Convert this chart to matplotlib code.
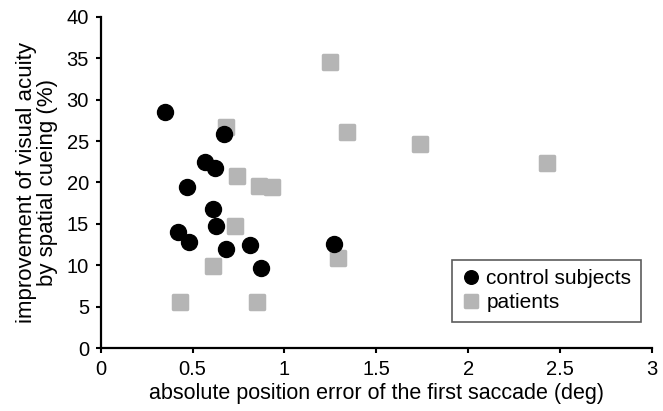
import matplotlib
matplotlib.use("Agg")
import matplotlib.pyplot as plt
from matplotlib.markers import MarkerStyle

plt.rcParams['font.family'] = ['Liberation Sans', 'DejaVu Sans']

# control subjects
ctrl_x = [0.35, 0.67, 0.57, 0.62, 0.47, 0.61, 0.63, 0.42, 0.48, 0.68, 0.81, 0.87, 1.27]
ctrl_y = [28.5, 25.8, 22.5, 21.8, 19.4, 16.8, 14.8, 14.0, 12.8, 12.0, 12.4, 9.7, 12.6]
# patients
pat_x = [1.25, 0.68, 1.34, 0.74, 0.86, 0.93, 0.73, 1.29, 0.61, 0.43, 0.85, 1.74, 2.43]
pat_y = [34.6, 26.7, 26.1, 20.8, 19.6, 19.4, 14.7, 10.9, 9.9, 5.6, 5.6, 24.6, 22.3]

fig = plt.figure(figsize=(6.63, 4.11), dpi=100)
ax = fig.add_axes([0.152, 0.153, 0.831, 0.806])

sq = MarkerStyle('s', joinstyle='round')
ax.plot(pat_x, pat_y, linestyle='none', marker=sq, markersize=9.5,
        markerfacecolor='#b5b5b5', markeredgecolor='#b5b5b5', markeredgewidth=2.5,
        label='patients', zorder=2)
oc = MarkerStyle('o', joinstyle='round')
ax.plot(ctrl_x, ctrl_y, linestyle='none', marker=oc, markersize=11.5,
        markerfacecolor='black', markeredgecolor='black', markeredgewidth=1,
        label='control subjects', zorder=3)

ax.set_xlim(0, 3)
ax.set_ylim(0, 40)
ax.set_xticks([0, 0.5, 1, 1.5, 2, 2.5, 3])
ax.set_xticklabels(['0', '0.5', '1', '1.5', '2', '2.5', '3'])
ax.set_yticks(range(0, 41, 5))
ax.tick_params(direction='out', length=3.5, width=1.5, labelsize=14.5)
ax.tick_params(axis='y', pad=5)
ax.tick_params(axis='x', pad=5)

for s in ['top', 'right']:
    ax.spines[s].set_visible(False)
for s in ['left', 'bottom']:
    ax.spines[s].set_linewidth(1.6)

ax.set_xlabel('absolute position error of the first saccade (deg)', fontsize=15.5, labelpad=3)
ax.set_ylabel('improvement of visual acuity\nby spatial cueing (%)', fontsize=16,
              labelpad=6, linespacing=1.0)

h, l = ax.get_legend_handles_labels()
leg = ax.legend(h[::-1], l[::-1], loc='lower right', bbox_to_anchor=(0.98, 0.08),
                fontsize=15, frameon=True, fancybox=False, edgecolor='#333333',
                handletextpad=0.3, borderpad=0.45, labelspacing=0.25, handlelength=0.9,
                borderaxespad=0, markerscale=0.85)
leg.get_frame().set_linewidth(1.2)

fig.savefig('out.png', dpi=100)
